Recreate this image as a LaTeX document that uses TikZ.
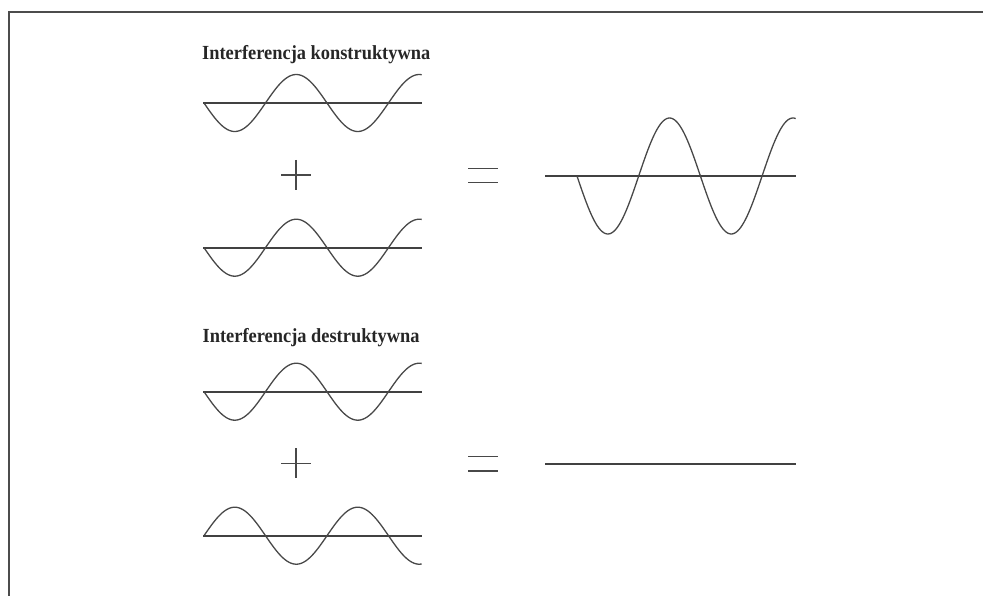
\documentclass[tikz,border=0pt]{standalone}
\usepackage{fontspec}
\newfontfamily\titlefont[FakeStretch=0.92]{Liberation Serif}
\usetikzlibrary{positioning}
\definecolor{wavegray}{RGB}{72,72,72}

\begin{document}
\begin{tikzpicture}[x=1pt,y=-1pt,
    axis/.style={line width=1.7pt,wavegray!90!black},
    wave/.style={line width=1.3pt,wavegray},
    sign/.style={line width=1.4pt,wavegray},
    title/.style={anchor=base west,inner sep=0pt,text=black!85,font=\titlefont\bfseries\fontsize{20}{24}\selectfont}]
    \useasboundingbox (0,0) rectangle (983,596);
    % frame
    \draw[line width=1.6pt,black!70] (9,596) -- (9,12.3) -- (983,12.3);
    % titles
    \node[title] (konstr) at (202,60) {Interferencja konstruktywna};
    \node[title] (destr) at (202.5,342.7) {Interferencja destruktywna};
    % the four single waves (period 123)
    \foreach \ya/\amp in {103/28.5, 247.7/28.5, 391.7/28.5, 535.7/-28.5}{
      \draw[axis] (203,\ya) -- (421.5,\ya);
      \draw[wave] plot[domain=204:421.7,samples=120,smooth] (\x,{\ya+\amp*sin((\x-204)*2.92683)});
    }
    % plus and equals
    \draw[sign] (281,175) -- (311,175) (296,160) -- (296,190);
    \draw[sign] (281,463.3) -- (311,463.3) (296,448.3) -- (296,478.3);
    \draw[sign] (468,168.3) -- (498,168.3) (468,182.7) -- (498,182.7);
    \draw[sign] (468,456.7) -- (498,456.7) (468,471) -- (498,471);
    % results
    \draw[axis] (545,176) -- (795.7,176);
    \draw[wave] plot[domain=577:795.7,samples=140,smooth] (\x,{176+58*sin((\x-577)*2.91734)});
    \draw[axis] (545,463.7) -- (795.7,463.7);
\end{tikzpicture}
\end{document}
